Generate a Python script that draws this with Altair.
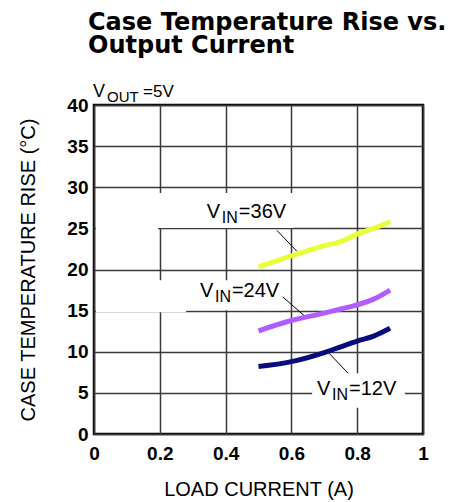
import altair as alt
import pandas as pd

# ---- data ----
load_current = [0.5, 0.6, 0.7, 0.75, 0.8, 0.85, 0.9]
rise_36v = [20.3, 21.65, 22.9, 23.4, 24.3, 25.0, 25.8]
rise_24v = [12.55, 13.8, 14.7, 15.2, 15.7, 16.4, 17.5]
rise_12v = [8.2, 8.8, 9.9, 10.6, 11.3, 11.9, 12.85]
series_names = ["36V", "24V", "12V"]
series_colors = ["#e8ff3a", "#b05eff", "#0b0b80"]

x_ticks = [0, 0.2, 0.4, 0.6, 0.8, 1]
y_ticks = [0, 5, 10, 15, 20, 25, 30, 35, 40]

# annotation anchors (data units)
label_names = ["=36V", "=24V", "=12V"]
label_x = [0.343, 0.322, 0.678]
label_y = [26.3, 16.66, 4.74]
leader_x = [0.556, 0.574, 0.711]
leader_y = [24.75, 16.66, 9.97]
leader_x2 = [0.617, 0.647, 0.772]
leader_y2 = [22.2, 14.1, 7.4]
box_x = [0.006, 0.006, 0.006, 0.006, 0.663]
box_x2 = [0.605, 0.195, 0.574, 0.28, 0.945]
box_y = [25.05, 24.75, 15.05, 14.8, 3.2]
box_y2 = [29.3, 25.25, 18.7, 15.2, 7.4]

FONT = "Liberation Sans"

rows = []
for name, vals in zip(series_names, [rise_36v, rise_24v, rise_12v]):
    for c, v in zip(load_current, vals):
        rows.append({"series": name, "current": c, "rise": v})
df = pd.DataFrame(rows)

lab = pd.DataFrame({"name": label_names, "x": label_x, "y": label_y})
lead = pd.DataFrame({"x": leader_x, "y": leader_y, "x2": leader_x2, "y2": leader_y2})
boxes = pd.DataFrame({"x": box_x, "x2": box_x2, "y": box_y, "y2": box_y2})
vout = pd.DataFrame({"x": [-0.003], "y": [40.97]})

xscale = alt.Scale(domain=[0, 1], nice=False)
yscale = alt.Scale(domain=[0, 40], nice=False)

X = alt.X(
    "current:Q",
    scale=xscale,
    title="LOAD CURRENT (A)",
    axis=alt.Axis(values=x_ticks, format="~g", ticks=False, domain=False,
                  labelPadding=10, titlePadding=16, labelFlush=False),
)
Y = alt.Y(
    "rise:Q",
    scale=yscale,
    title="CASE TEMPERATURE RISE (°C)",
    axis=alt.Axis(values=y_ticks, ticks=False, domain=False,
                  labelPadding=6, titlePadding=28),
)

white = alt.Chart(boxes).mark_rect(fill="white", stroke=None).encode(
    x=alt.X("x:Q", scale=xscale), x2="x2:Q",
    y=alt.Y("y:Q", scale=yscale), y2="y2:Q",
)

lines = alt.Chart(df).mark_line(strokeWidth=5, interpolate="monotone").encode(
    x=X, y=Y,
    color=alt.Color("series:N", scale=alt.Scale(domain=series_names, range=series_colors), legend=None),
)

leaders = alt.Chart(lead).mark_rule(color="black", strokeWidth=1).encode(
    x=alt.X("x:Q", scale=xscale), x2="x2:Q",
    y=alt.Y("y:Q", scale=yscale), y2="y2:Q",
)

base_lab = alt.Chart(lab).encode(x=alt.X("x:Q", scale=xscale), y=alt.Y("y:Q", scale=yscale))
t_v = base_lab.mark_text(text="V", align="left", baseline="alphabetic", font=FONT, fontSize=20, color="black")
t_in = base_lab.mark_text(text="IN", align="left", baseline="alphabetic", font=FONT, fontSize=16, dx=15, dy=5, color="black")
t_rest = base_lab.mark_text(align="left", baseline="alphabetic", font=FONT, fontSize=20, dx=32, color="black").encode(text="name:N")

base_v = alt.Chart(vout).encode(x=alt.X("x:Q", scale=xscale), y=alt.Y("y:Q", scale=yscale))
v1 = base_v.mark_text(text="V", align="left", baseline="alphabetic", font=FONT, fontSize=18, color="black")
v2 = base_v.mark_text(text="OUT", align="left", baseline="alphabetic", font=FONT, fontSize=15, dx=14, dy=5, color="black")
v3 = base_v.mark_text(text="=5V", align="left", baseline="alphabetic", font=FONT, fontSize=17, dx=50, color="black")

chart = (
    alt.layer(white, leaders, lines, t_v, t_in, t_rest, v1, v2, v3)
    .properties(
        width=329,
        height=329,
        autosize=alt.AutoSizeParams(type="none"),
        padding={"left": 86, "top": 97, "right": 38, "bottom": 66},
        title=alt.TitleParams(
            text=["Case Temperature Rise vs.", "Output Current"],
            anchor="start",
            frame="group",
            font="DejaVu Sans",
            fontSize=24,
            fontWeight="bold",
            lineHeight=23,
            offset=25,
            dx=-6,
            color="black",
        ),
    )
    .configure_view(stroke="black", strokeWidth=2.5)
    .configure_axis(
        grid=True,
        gridColor="#3a3a3a",
        gridWidth=1.5,
        labelFont=FONT,
        labelFontSize=19,
        labelFontWeight="bold",
        labelColor="black",
        titleFont=FONT,
        titleFontSize=20,
        titleFontWeight="normal",
        titleColor="black",
    )
)

chart.save("out.html", embed_options={"renderer": "svg", "actions": False})
